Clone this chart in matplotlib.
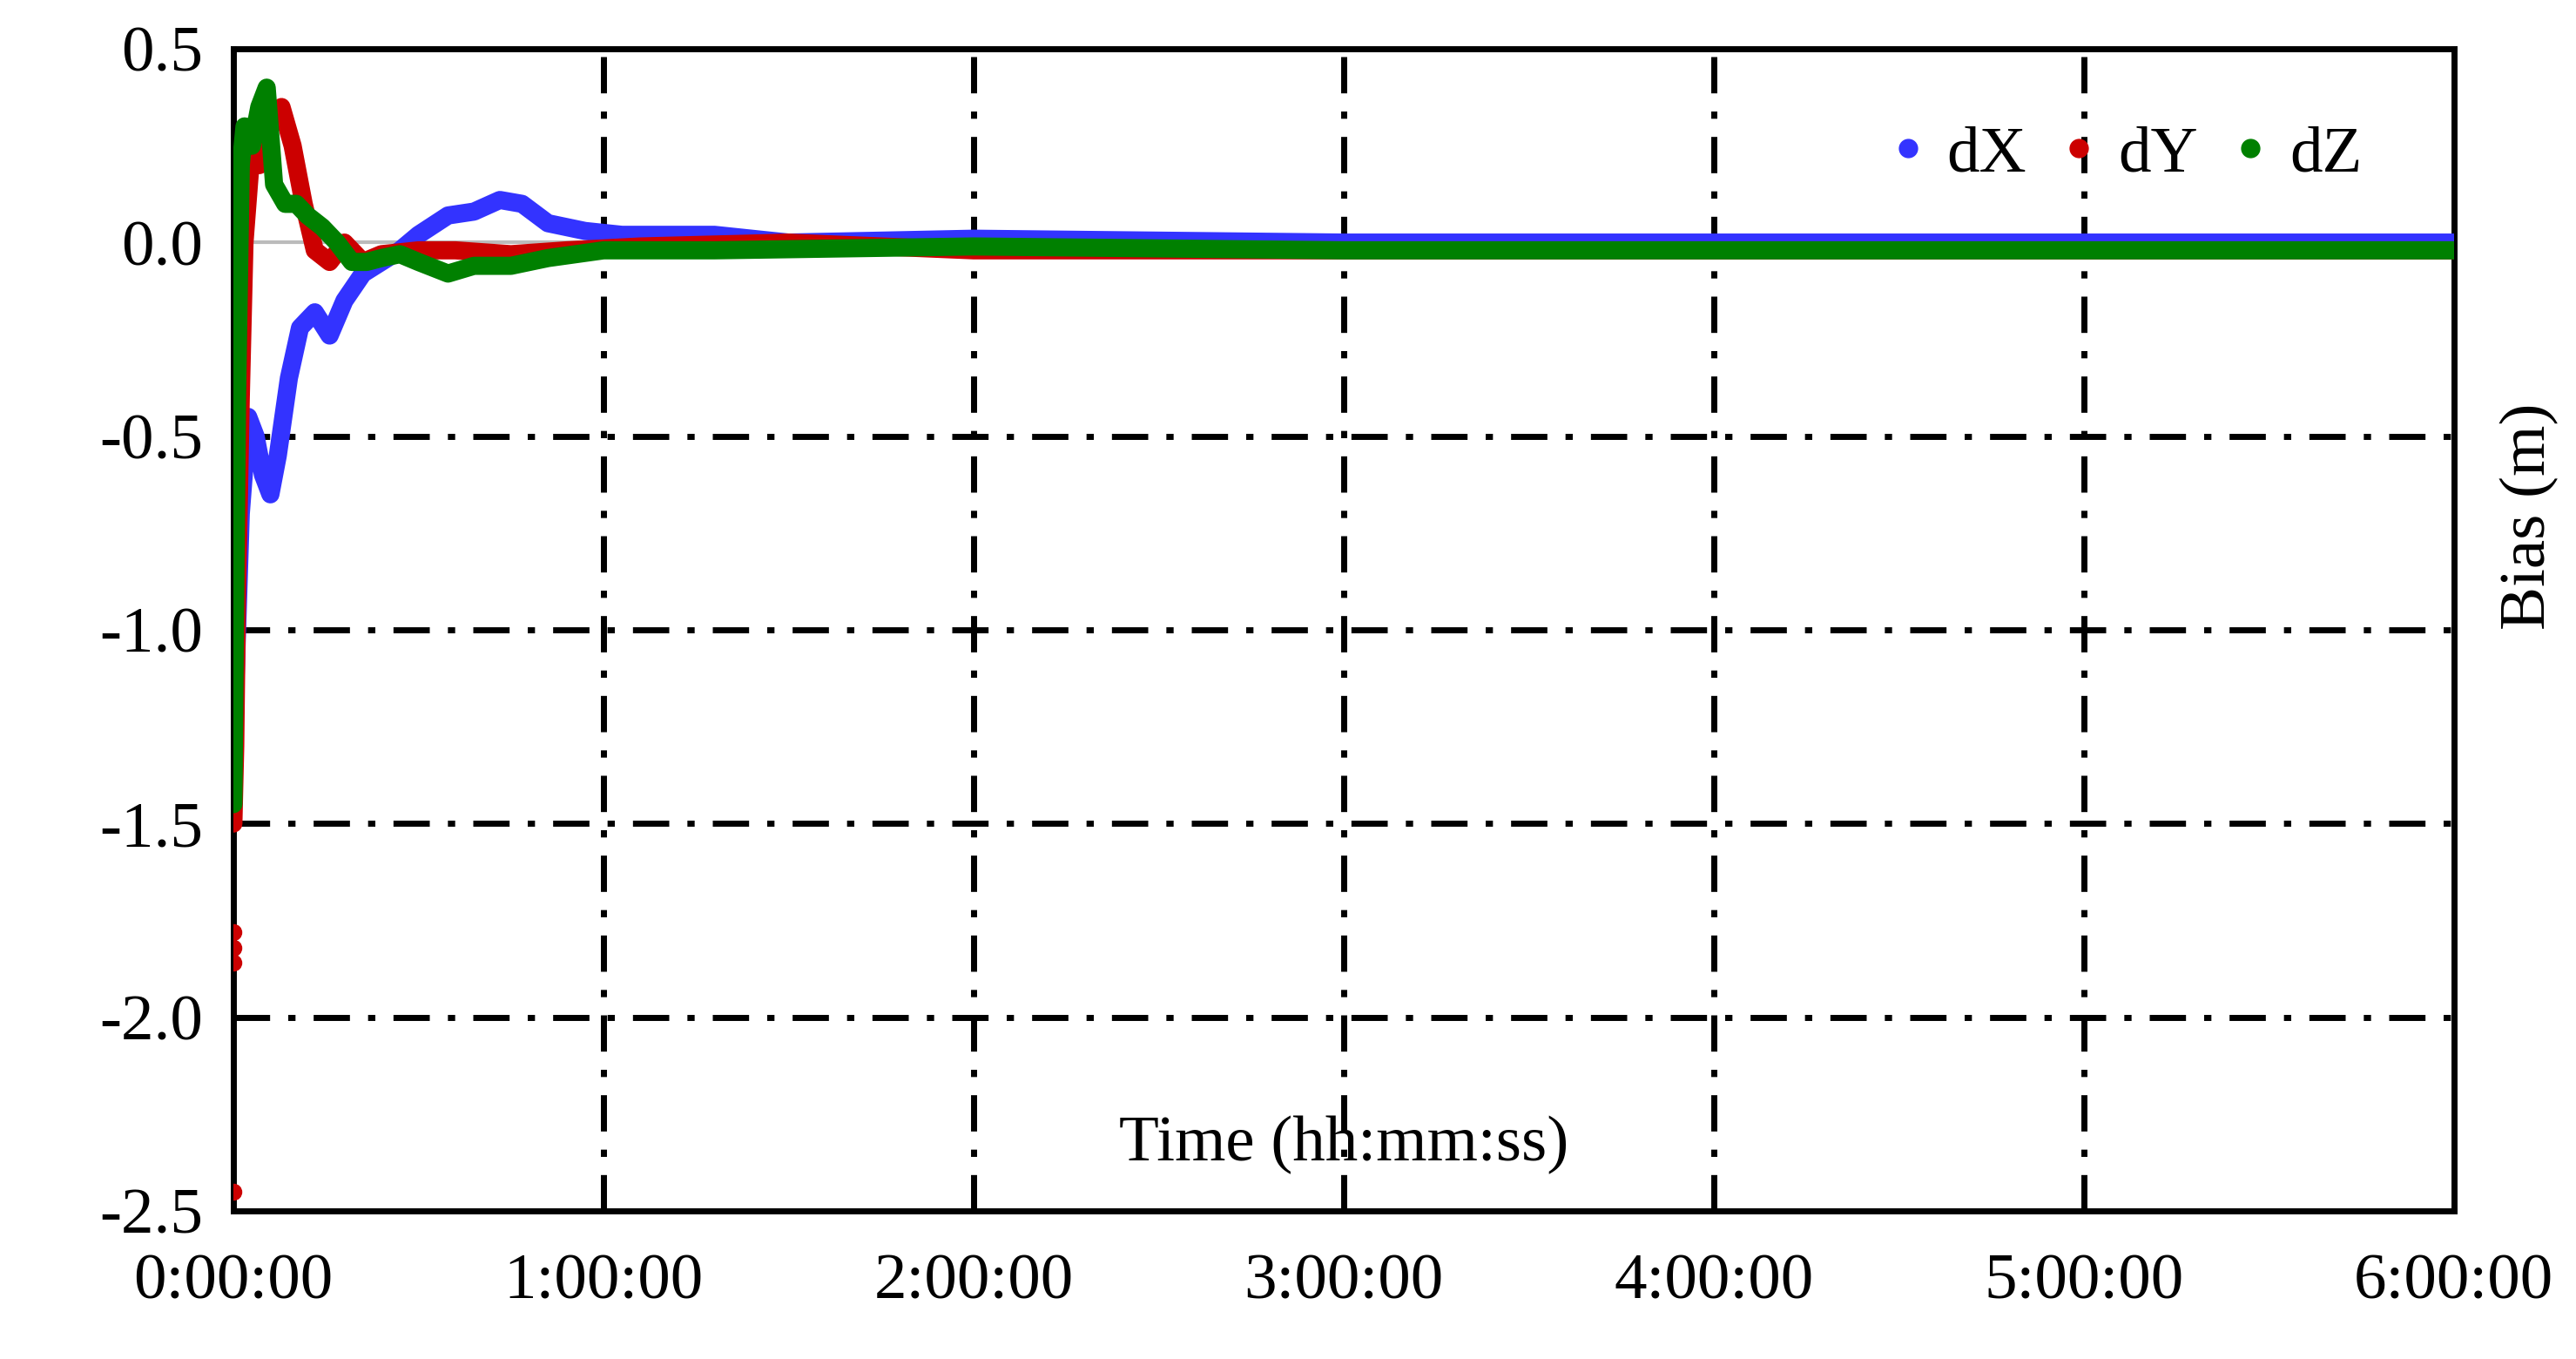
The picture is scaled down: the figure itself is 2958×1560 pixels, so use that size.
import numpy as np
import matplotlib.pyplot as plt

# time in hours, bias in metres
t_x = [0.0, 0.01, 0.02, 0.04, 0.06, 0.08, 0.10, 0.12, 0.15, 0.18, 0.22, 0.26, 0.30, 0.35, 0.40, 0.45, 0.50,
       0.58, 0.65, 0.72, 0.78, 0.85, 0.95, 1.05, 1.3, 1.5, 2.0, 3.0, 4.0, 5.0, 6.0]
d_x = [-1.30, -1.00, -0.70, -0.45, -0.50, -0.60, -0.65, -0.55, -0.35, -0.22, -0.18, -0.24, -0.15, -0.08, -0.05, -0.02, 0.02,
       0.07, 0.08, 0.11, 0.10, 0.05, 0.03, 0.02, 0.02, 0.0, 0.01, 0.0, 0.0, 0.0, 0.0]

t_y = [0.0, 0.005, 0.01, 0.02, 0.03, 0.05, 0.07, 0.10, 0.13, 0.16, 0.19, 0.22, 0.26, 0.30, 0.35, 0.40, 0.50, 0.60, 0.75,
       0.90, 1.1, 1.5, 2.0, 3.0, 4.0, 5.0, 6.0]
d_y = [-1.50, -1.30, -0.90, -0.40, 0.0, 0.25, 0.20, 0.30, 0.35, 0.25, 0.10, -0.02, -0.05, 0.0, -0.05, -0.03, -0.02, -0.02,
       -0.03, -0.02, -0.01, 0.0, -0.02, -0.02, -0.02, -0.02, -0.02]
t_y_out = [0.0, 0.0, 0.0, 0.0]
d_y_out = [-1.78, -1.82, -1.86, -2.45]

t_z = [0.0, 0.005, 0.01, 0.02, 0.03, 0.05, 0.07, 0.09, 0.11, 0.14, 0.17, 0.20, 0.24, 0.28, 0.32, 0.36, 0.40, 0.45, 0.50,
       0.58, 0.65, 0.75, 0.85, 1.0, 1.3, 2.0, 3.0, 4.0, 5.0, 6.0]
d_z = [-1.45, -0.90, -0.40, 0.20, 0.30, 0.25, 0.35, 0.40, 0.15, 0.10, 0.10, 0.07, 0.04, 0.0, -0.05, -0.05, -0.04, -0.03, -0.05,
       -0.08, -0.06, -0.06, -0.04, -0.02, -0.02, -0.01, -0.02, -0.02, -0.02, -0.02]

xticks = [0, 1, 2, 3, 4, 5, 6]
xticklabels = ['0:00:00', '1:00:00', '2:00:00', '3:00:00', '4:00:00', '5:00:00', '6:00:00']
yticks = [-2.5, -2.0, -1.5, -1.0, -0.5, 0.0, 0.5]

plt.rcParams['font.family'] = ['Liberation Serif', 'DejaVu Serif']
fs = 54

fig = plt.figure(figsize=(29.58, 15.6), dpi=100)
ax = fig.add_axes([0.0906, 0.109, 0.862, 0.855])

ax.axhline(0, color='#bbbbbb', lw=3, zorder=1)
dashdot = (0, (6, 3, 1.2, 3))
for gx in [1, 2, 3, 4, 5]:
    ax.axvline(gx, color='black', lw=5, ls=dashdot, zorder=1)
for gy in [-2.0, -1.5, -1.0, -0.5]:
    ax.axhline(gy, color='black', lw=5, ls=dashdot, zorder=1)

lw = 15
ax.plot(t_x, d_x, color='#3333ff', lw=lw, solid_capstyle='round', zorder=3)
ax.plot(t_y, d_y, color='#cc0000', lw=lw, solid_capstyle='round', zorder=4)
ax.plot(t_y_out, d_y_out, 'o', color='#cc0000', ms=13, zorder=4)
ax.plot(t_z, d_z, color='#008000', lw=lw, solid_capstyle='round', zorder=5)

# legend handles
ax.plot([], [], 'o', color='#3333ff', ms=15, label='dX')
ax.plot([], [], 'o', color='#cc0000', ms=15, label='dY')
ax.plot([], [], 'o', color='#008000', ms=15, label='dZ')
handles = ax.get_lines()[-3:]
ax.legend(handles=handles, loc='upper right', ncol=3, frameon=False, fontsize=fs,
          handlelength=0.4, handletextpad=0.4, columnspacing=0.6, bbox_to_anchor=(0.985, 0.985))

ax.set_xlim(0, 6)
ax.set_ylim(-2.5, 0.5)
ax.set_xticks(xticks)
ax.set_xticklabels(xticklabels)
ax.set_yticks(yticks)
ax.set_yticklabels([f'{v:.1f}' for v in yticks])
ax.tick_params(axis='both', labelsize=fs, length=0, pad=25)
ax.tick_params(axis='x', pad=35)
for s in ax.spines.values():
    s.set_linewidth(5)

ax.text(3, -2.33, 'Time (hh:mm:ss)', ha='center', va='center', fontsize=fs)
fig.text(0.982, 0.62, 'Bias (m)', rotation=90, ha='center', va='center', fontsize=fs)

fig.savefig('out.png', dpi=100)
